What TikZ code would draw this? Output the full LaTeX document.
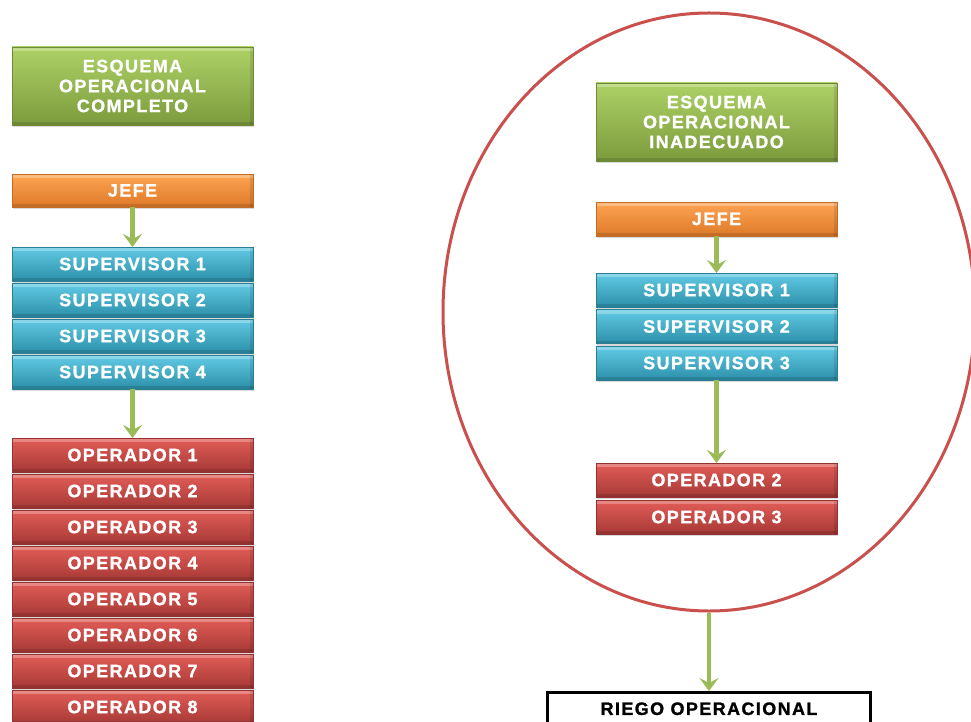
\documentclass[tikz,border=0pt]{standalone}
\usepackage{fontspec}
\newfontfamily\barfont[LetterSpace=8, FakeBold=1.3]{Liberation Sans}
\usetikzlibrary{shapes.geometric,arrows.meta,shadows}

% bar colours (top, middle, bottom, edge)
\definecolor{gtop}{HTML}{AED166}\definecolor{gmid}{HTML}{9BBB59}\definecolor{gbot}{HTML}{7C9B3D}\definecolor{gedge}{HTML}{6F8A38}
\definecolor{otop}{HTML}{FDA452}\definecolor{omid}{HTML}{F79646}\definecolor{obot}{HTML}{DE7A2A}\definecolor{oedge}{HTML}{C46B24}
\definecolor{btop}{HTML}{62CBE5}\definecolor{bmid}{HTML}{45B1CD}\definecolor{bbot}{HTML}{2C8FA9}\definecolor{bedge}{HTML}{287F96}
\definecolor{rtop}{HTML}{E35D58}\definecolor{rmid}{HTML}{CE4845}\definecolor{rbot}{HTML}{A63936}\definecolor{redge}{HTML}{933230}
\definecolor{ringred}{HTML}{C9504D}
\definecolor{flowgreen}{HTML}{9BBB59}

\tikzset{
  bar/.style={rectangle, anchor=north west, minimum width=241bp, minimum height=34bp,
    inner sep=0pt, outer sep=0pt, text=white, align=center, line width=0.6bp,
    font=\barfont\bfseries\fontsize{18}{20}\selectfont,
    drop shadow={shadow xshift=1bp, shadow yshift=-2bp, opacity=0.3},
    path picture={
      \fill[white, opacity=0.28] (path picture bounding box.north west) rectangle ([yshift=-4bp]path picture bounding box.north east);
      \fill[black, opacity=0.12] ([yshift=3bp]path picture bounding box.south west) rectangle (path picture bounding box.south east);
      \fill[black, opacity=0.10] (path picture bounding box.north east) rectangle ([xshift=-3bp]path picture bounding box.south east);
    }},
  greenbar/.style={bar, top color=gtop, middle color=gmid, bottom color=gbot, draw=gedge},
  orangebar/.style={bar, top color=otop, middle color=omid, bottom color=obot, draw=oedge},
  bluebar/.style={bar, top color=btop, middle color=bmid, bottom color=bbot, draw=bedge},
  redbar/.style={bar, top color=rtop, middle color=rmid, bottom color=rbot, draw=redge},
  flow/.style={draw=flowgreen, line width=4.5bp, -{Stealth[length=13bp, width=19bp, inset=5bp]}},
  outcome/.style={rectangle, draw=black, line width=2.5bp, fill=white, anchor=north,
    minimum width=323bp, minimum height=33bp, inner sep=0pt, text=black,
    font=\barfont\bfseries\fontsize{18}{20}\selectfont},
  ring/.style={ellipse, draw=ringred, line width=3bp, inner sep=0pt,
    minimum width=532bp, minimum height=598bp}
}

\begin{document}
\begin{tikzpicture}[x=1bp, y=-1bp]
  \useasboundingbox (0,0) rectangle (971,722);

  % complete scheme
  \node[greenbar, minimum height=78bp] (titleL) at (12,47) {ESQUEMA\\OPERACIONAL\\COMPLETO};
  \node[orangebar, minimum height=33bp] (jefeL) at (12,174) {JEFE};
  \foreach \i in {1,...,4}
    \node[bluebar] (sup\i L) at (12,{247+36*(\i-1)}) {SUPERVISOR \i};
  \foreach \i in {1,...,8}
    \node[redbar] (op\i L) at (12,{438+36*(\i-1)}) {OPERADOR \i};
  \draw[flow] (jefeL) -- (sup1L);
  \draw[flow] (sup4L) -- (op1L);

  % inadequate scheme inside the ring
  \node[ring] (frame) at (709,312) {};
  \node[greenbar, minimum height=78bp] (titleR) at (596,83) {ESQUEMA\\OPERACIONAL\\INADECUADO};
  \node[orangebar] (jefeR) at (596,202) {JEFE};
  \node[bluebar] (sup1R) at (596,273) {SUPERVISOR 1};
  \node[bluebar] (sup2R) at (596,309.5) {SUPERVISOR 2};
  \node[bluebar] (sup3R) at (596,346) {SUPERVISOR 3};
  \node[redbar] (op2R) at (596,463) {OPERADOR 2};
  \node[redbar] (op3R) at (596,500) {OPERADOR 3};
  \draw[flow] (jefeR) -- (sup1R);
  \draw[flow] (sup3R) -- (op2R);

  % resulting risk
  \node[outcome] (riesgo) at (709,691) {RIEGO OPERACIONAL};
  \draw[flow] (frame.south) -- (riesgo.north);
\end{tikzpicture}
\end{document}
